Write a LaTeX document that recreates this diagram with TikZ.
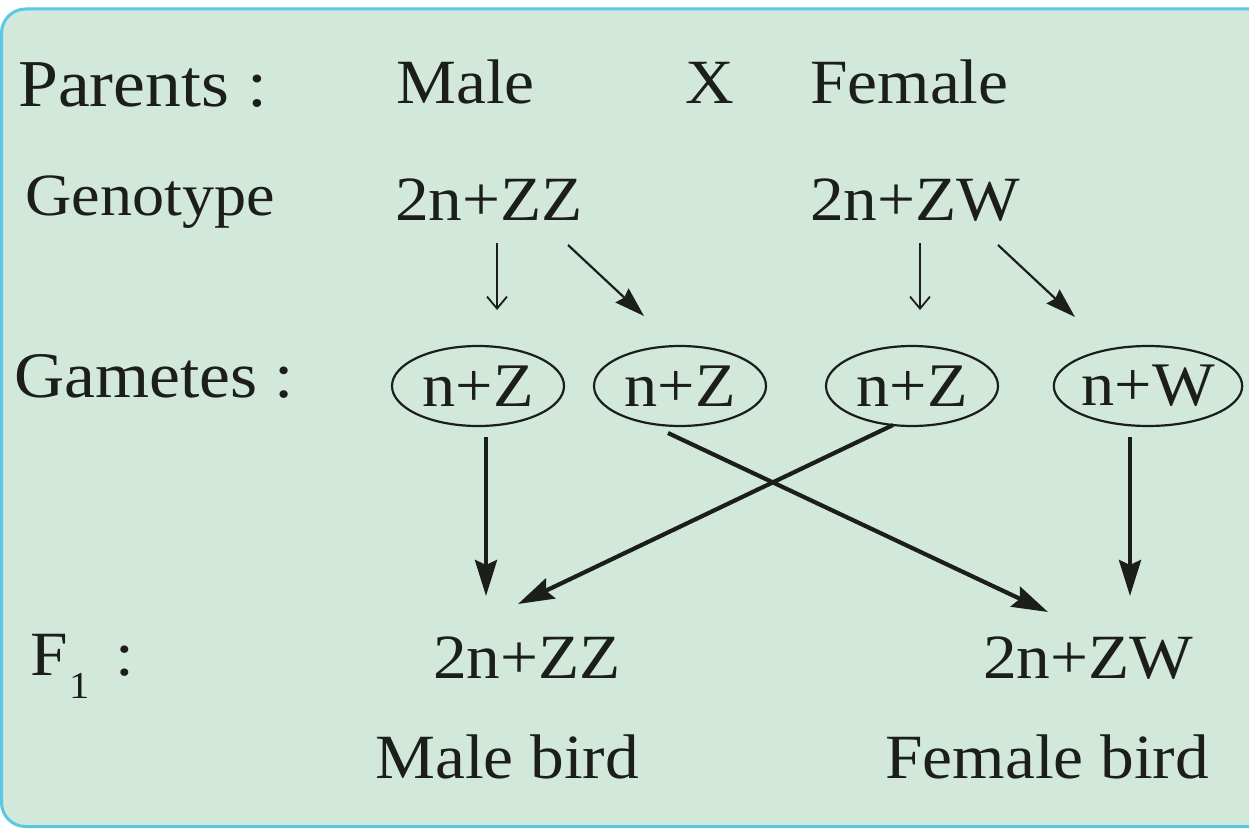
\documentclass[tikz,border=0pt]{standalone}
\usepackage{fontspec}
\setmainfont[FakeStretch=1.07]{Liberation Serif}
\usetikzlibrary{arrows.meta,shapes.geometric}
\definecolor{bg}{RGB}{210,232,218}
\definecolor{rim}{RGB}{90,200,225}
\definecolor{ink}{RGB}{28,30,28}
\begin{document}
\begin{tikzpicture}[x=1pt,y=-1pt,
  lbl/.style={anchor=base west, inner sep=0pt, text=ink, font=\fontsize{63}{70}\selectfont},
  gam/.style={ellipse, draw=ink, line width=2.2pt, minimum width=172pt, minimum height=80pt, inner sep=0pt, text=ink, font=\fontsize{62}{70}\selectfont},
  bigarr/.style={draw=ink, line width=4.2pt, -{Stealth[length=36pt,width=22pt,inset=5pt]}},
  smallarr/.style={draw=ink, line width=1.8pt, -{Straight Barb[length=12pt,width=20pt]}},
  diagarr/.style={draw=ink, line width=2.2pt, -{Stealth[length=30pt,width=19pt,inset=3pt]}}]
\useasboundingbox (0,0) rectangle (1249,829);
\fill[white!95!bg] (0,0) rectangle (1249,10);
\draw[line width=3pt, draw=rim, fill=bg, rounded corners=24pt] (1.5,9) rectangle (1275,826.5);

% row labels
\node[lbl, font=\fontsize{67}{70}\selectfont] (parents) at (18,107) {Parents :};
\node[lbl, font=\fontsize{60}{70}\selectfont] (genotype) at (25,215) {Genotype};
\node[lbl, font=\fontsize{65}{70}\selectfont] (gametes) at (14,397) {Gametes :};
\node[lbl] (f1lbl) at (30,675) {F\raisebox{-0.38em}{\fontsize{38}{40}\selectfont\hspace{0.05em}1}\hspace{0.4em}:};

% parents
\node[lbl] (male) at (396,104) {Male};
\node[lbl] (cross) at (685,104) {X};
\node[lbl] (female) at (810,104) {Female};

% genotypes
\node[lbl] (gzz) at (395,220) {2n+ZZ};
\node[lbl] (gzw) at (810,220) {2n+ZW};

% gametes
\node[gam] (e1) at (478,386) {n+Z};
\node[gam] (e2) at (680,386) {n+Z};
\node[gam] (e3) at (912,386) {n+Z};
\node[gam] (e4) at (1148,386) {n+W};

% F1
\node[lbl] (fzz) at (433,678) {2n+ZZ};
\node[lbl] (fzw) at (983,678) {2n+ZW};
\node[lbl] (mbird) at (375,778) {Male bird};
\node[lbl] (fbird) at (885,778) {Female bird};

% arrow end points
\coordinate (s1a) at (497,243);
\coordinate (s1b) at (497,310);
\coordinate (s2a) at (568,245);
\coordinate (s2b) at (644,316);
\coordinate (s3a) at (920,243);
\coordinate (s3b) at (920,310);
\coordinate (s4a) at (998,245);
\coordinate (s4b) at (1075,317);

\coordinate (aA) at (486,437);
\coordinate (aAt) at (486,596);
\coordinate (aB) at (893,425);
\coordinate (aBt) at (518,604);
\coordinate (aC) at (668,433);
\coordinate (aCt) at (1048,612);
\coordinate (aD) at (1130,437);
\coordinate (aDt) at (1130,596);

\draw[smallarr] (s1a) -- (s1b);
\draw[diagarr] (s2a) -- (s2b);
\draw[smallarr] (s3a) -- (s3b);
\draw[diagarr] (s4a) -- (s4b);

\draw[bigarr] (aA) -- (aAt);
\draw[bigarr] (aB) -- (aBt);
\draw[bigarr] (aC) -- (aCt);
\draw[bigarr] (aD) -- (aDt);
\end{tikzpicture}
\end{document}
